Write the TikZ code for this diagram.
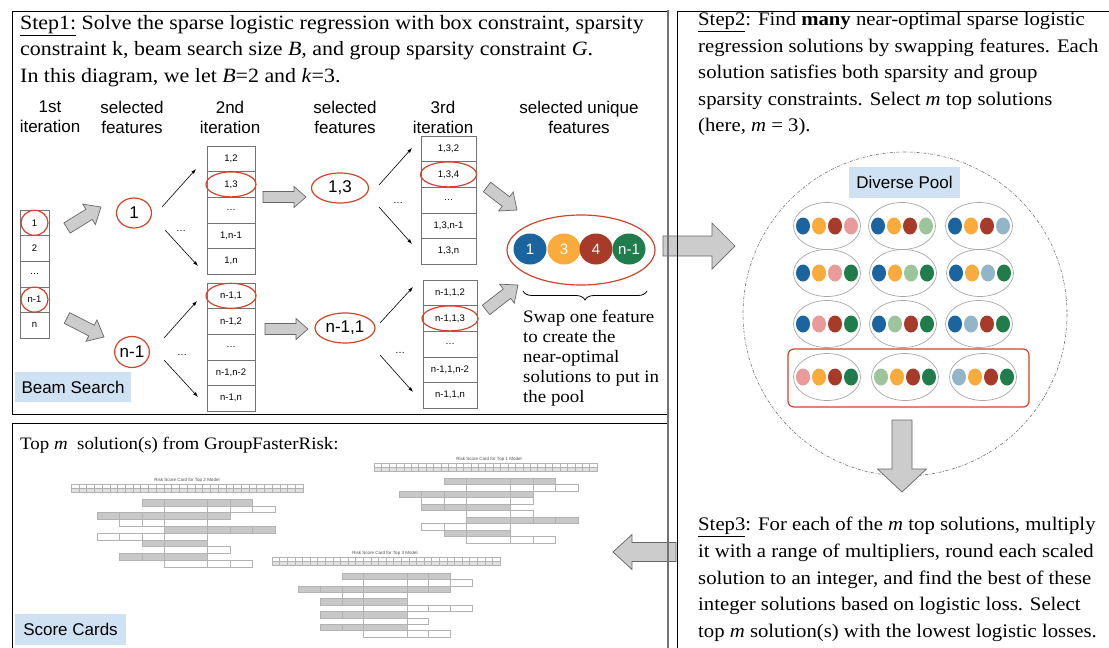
\documentclass[tikz,border=0pt]{standalone}
\usepackage{fontspec}
\setmainfont{Liberation Serif}[FakeStretch=1.08]
\setsansfont{Liberation Sans}
\usetikzlibrary{shapes.geometric,decorations.pathreplacing,calc,arrows.meta}
\definecolor{cB}{HTML}{1A64A0}
\definecolor{cO}{HTML}{FBAA3C}
\definecolor{cR}{HTML}{A83A2A}
\definecolor{cG}{HTML}{1E7D4B}
\definecolor{cP}{HTML}{E99B9B}
\definecolor{cL}{HTML}{9CC59C}
\definecolor{cS}{HTML}{93B5C9}
\definecolor{redline}{HTML}{D0442A}
\definecolor{labelblue}{HTML}{CFE2F3}
\definecolor{arrowfill}{HTML}{CCCCCC}
\definecolor{arrowdraw}{HTML}{666666}
\definecolor{cardgray}{HTML}{C8C8C8}
\tikzset{
 hdr/.style={font=\sffamily\fontsize{17}{20}\selectfont, align=center},
 cell/.style={draw=black!55, line width=0.6pt, minimum height=25.6pt, inner sep=0pt, font=\sffamily\fontsize{9.5}{10}\selectfont},
 selring/.style={ellipse, draw=redline, line width=1.2pt, inner sep=0pt},
 selfeat/.style={ellipse, draw=redline, line width=1.2pt, inner sep=0pt, font=\sffamily\fontsize{17}{20}\selectfont},
 thinarrow/.style={-{Latex[length=5pt,width=3.5pt]}, line width=0.6pt},
 dotslabel/.style={font=\sffamily\fontsize{10}{12}\selectfont},
 bigarrow/.style={fill=arrowfill, draw=arrowdraw, line width=0.7pt, line join=miter},
 tag/.style={fill=labelblue, inner sep=0pt, font=\sffamily\fontsize{17}{20}\selectfont},
 feat/.style={ellipse, inner sep=0pt, minimum width=33pt, minimum height=31pt, text=white, font=\sffamily\fontsize{15}{18}\selectfont},
 steptext/.style={align=left, inner sep=0pt, anchor=north west, font=\fontsize{17.5}{26.5}\selectfont},
 poolell/.style={ellipse, draw=black!35, line width=0.7pt, minimum width=67pt, minimum height=47pt, inner sep=0pt},
 panel/.style={draw=black, line width=0.8pt},
 cardcell/.style={draw=black!30, line width=0.25pt},
 cardtitle/.style={font=\sffamily\fontsize{4.5}{5}\selectfont, text=black!70, inner sep=0pt},
}
% tail x,y ; tip x,y ; half body ; half head ; head length
\newcommand\blockarrow[7]{%
 \pgfmathsetmacro\bal{veclen(#3-#1,#4-#2)}%
 \pgfmathsetmacro\baa{atan2(#4-#2,#3-#1)}%
 \begin{scope}[shift={(#1,#2)}, rotate=-\baa]
  \draw[bigarrow] (0,-#5) -- ({\bal-#7},-#5) -- ({\bal-#7},-#6) -- (\bal,0) -- ({\bal-#7},#6) -- ({\bal-#7},#5) -- (0,#5) -- cycle;
 \end{scope}}
% name, x center, y top, width, list
\newcommand\featcol[5]{%
 \foreach \lab [count=\ii] in {#5} {
  \node[cell, minimum width=#4] (#1-\ii) at (#2, {#3+(\ii-0.5)*25.6}) {\lab};
 }}
% x0, y0, x1, row h, n cells
\newcommand\cardhead[5]{%
 \pgfmathsetmacro\hdcw{(#3-#1)/#5}%
 \foreach \k in {1,...,#5} {
  \draw[cardcell, fill=white] ({#1+(\k-1)*\hdcw},#2) rectangle ({#1+\k*\hdcw},{#2+#4});
  \draw[cardcell, fill=black!12] ({#1+(\k-1)*\hdcw},{#2+#4}) rectangle ({#1+\k*\hdcw},{#2+2*#4});
 }}
% x0, y0, w, center w, row h, spec
\newcommand\cardbody[6]{%
 \foreach \fc/\ca/\cb [count=\rr] in {#6} {
  \pgfmathtruncatemacro\cbm{\cb-1}
  \foreach \k in {\ca,...,\cbm} {
   \pgfmathsetmacro\xl{#1+\k*#3+(\k>3)*(#4-#3)}
   \pgfmathsetmacro\xr{#1+(\k+1)*#3+((\k+1)>3)*(#4-#3)}
   \pgfmathsetmacro\yt{#2+(\rr-1)*#5}
   \draw[cardcell, fill=\fc] (\xl,\yt) rectangle (\xr,{\yt+#5});
  }}}
\begin{document}
\begin{tikzpicture}[x=1pt,y=-1pt]
\useasboundingbox (0,0) rectangle (1109,648);
\clip (0,0) rectangle (1109,648);

% ---------- Step 1 ----------
\node[steptext, font=\fontsize{20.3}{26.5}\selectfont] (step1) at (20,15) {\underline{Step1:} Solve the sparse logistic regression with box constraint, sparsity\\
constraint k, beam search size \textit{B,} and group sparsity constraint \textit{G}.\\
In this diagram, we let \textit{B}=2 and \textit{k}=3.};

\node[hdr] (h1) at (50,117) {1st\\iteration};
\node[hdr] (h2) at (132,117) {selected\\features};
\node[hdr] (h3) at (230,117) {2nd\\iteration};
\node[hdr] (h4) at (345,117) {selected\\features};
\node[hdr] (h5) at (443,117) {3rd\\iteration};
\node[hdr] (h6) at (579,117) {selected unique\\features};

\featcol{ca}{34.5}{210}{29pt}{{1},{2},{\dots},{n-1},{n}}
\featcol{cb}{231}{146}{48pt}{{1,2},{1,3},{\dots},{1,n-1},{1,n}}
\featcol{cc}{231}{283}{48pt}{{n-1,1},{n-1,2},{\dots},{n-1,n-2},{n-1,n}}
\featcol{cd}{448.5}{136}{55pt}{{1,3,2},{1,3,4},{\dots},{1,3,n-1},{1,3,n}}
\featcol{ce}{450}{280}{54pt}{{n-1,1,2},{n-1,1,3},{\dots},{n-1,1,n-2},{n-1,1,n}}

\node[selring, minimum width=27pt, minimum height=25pt] (ra1) at (ca-1) {};
\node[selring, minimum width=27pt, minimum height=25pt] (ra4) at (ca-4) {};
\node[selring, minimum width=50pt, minimum height=25pt] (rb2) at (cb-2) {};
\node[selring, minimum width=50pt, minimum height=25pt] (rc1) at (cc-1) {};
\node[selring, minimum width=56pt, minimum height=25pt] (rd2) at (cd-2) {};
\node[selring, minimum width=56pt, minimum height=25pt] (re2) at (ce-2) {};

\node[selfeat, minimum width=35pt, minimum height=30pt] (s1) at (134,213) {1};
\node[selfeat, minimum width=34pt, minimum height=31pt] (s2) at (132,352) {n-1};
\node[selfeat, minimum width=57pt, minimum height=30pt] (s3) at (340,188) {1,3};
\node[selfeat, minimum width=60pt, minimum height=30pt] (s4) at (345,328) {n-1,1};

% thin arrows
\coordinate (a1s) at (162,207); \coordinate (a1e) at (196,169);
\coordinate (a2s) at (165,230); \coordinate (a2e) at (198,266);
\coordinate (a3s) at (164,338); \coordinate (a3e) at (197,301);
\coordinate (a4s) at (164,360); \coordinate (a4e) at (198,397);
\coordinate (a5s) at (379,185); \coordinate (a5e) at (412,148);
\coordinate (a6s) at (379,207); \coordinate (a6e) at (412,244);
\coordinate (a7s) at (380,323); \coordinate (a7e) at (413,287);
\coordinate (a8s) at (380,355); \coordinate (a8e) at (413,392);
\foreach \n in {1,...,8} \draw[thinarrow] (a\n s) -- (a\n e);
\node[dotslabel] (d1) at (181,231) {\dots};
\node[dotslabel] (d2) at (182,355) {\dots};
\node[dotslabel] (d3) at (398,203) {\dots};
\node[dotslabel] (d4) at (400,353) {\dots};

% block arrows in beam search
\blockarrow{67}{228}{101}{207}{6}{12}{14}
\blockarrow{67}{318}{104}{337}{6}{12}{14}
\blockarrow{263}{197}{306}{197}{5.5}{10.5}{12}
\blockarrow{265}{329}{308}{329}{5.5}{10.5}{12}
\blockarrow{487}{187}{517}{210}{6}{12}{14}
\blockarrow{486}{310}{518}{285}{6}{12}{14}

% selected unique features
\node[ellipse, draw=redline, line width=1.2pt, minimum width=148pt, minimum height=70pt, inner sep=0pt] (uniq) at (581,250) {};
\node[feat, fill=cB] (f1) at (530,249) {1};
\node[feat, fill=cO] (f2) at (564,249) {3};
\node[feat, fill=cR] (f3) at (596,249) {4};
\node[feat, fill=cG] (f4) at (629,249) {n-1};
\coordinate (brl) at (523,291);
\coordinate (brr) at (647,291);
\draw[decorate, decoration={brace, amplitude=9pt, mirror}, line width=0.8pt] (brl) -- (brr);
\node[steptext, font=\fontsize{17.5}{20}\selectfont] (swap) at (523,310) {Swap one feature\\to create the\\near-optimal\\solutions to put in\\the pool};

\node[tag, minimum width=116pt, minimum height=30pt] (beam) at (73,387) {Beam Search};

% ---------- Step 2 ----------
\node[steptext, font=\fontsize{19.2}{26.5}\selectfont] (step2) at (698,12) {\underline{Step2}: Find \textbf{many} near-optimal sparse logistic\\
regression solutions by swapping features. Each\\
solution satisfies both sparsity and group\\
sparsity constraints. Select \textit{m} top solutions\\
(here, \textit{m} = 3).};

\draw[black!55, line width=0.6pt, dash pattern=on 3pt off 1.5pt on 0.8pt off 1.5pt] (905,314) circle (162);
\node[tag, minimum width=111pt, minimum height=31pt] (pooltag) at (904.5,182.5) {Diverse Pool};
\foreach \cx/\cy/\ca/\cb/\cc/\cd [count=\n] in {
 827/226/cB/cO/cR/cP, 902/226/cB/cO/cR/cL, 979/226/cB/cO/cR/cS,
 827/273/cB/cO/cP/cG, 903/273/cB/cO/cL/cG, 980/273/cB/cO/cS/cG,
 827/324/cB/cP/cR/cG, 903/324/cB/cL/cR/cG, 979/324/cB/cS/cR/cG,
 827/377/cP/cO/cR/cG, 905/377/cL/cO/cR/cG, 983/377/cS/cO/cR/cG} {
  \node[poolell] (p\n) at (\cx,\cy) {};
  \foreach \col [count=\j] in {\ca,\cb,\cc,\cd}
   \fill[\col] ({\cx+16*\j-40},\cy) ellipse [x radius=7, y radius=8.5];
}
\draw[redline, line width=1.2pt, rounded corners=6pt] (788,349) rectangle (1029,407);

\blockarrow{663}{246}{735}{246}{10}{23}{23}
\blockarrow{902}{420}{902}{492}{10}{24.5}{23}

% ---------- Step 3 ----------
\node[steptext, font=\fontsize{19.2}{26.7}\selectfont] (step3) at (698,517) {\underline{Step3}: For each of the \textit{m} top solutions, multiply\\
it with a range of multipliers, round each scaled\\
solution to an integer, and find the best of these\\
integer solutions based on logistic loss. Select\\
top \textit{m} solution(s) with the lowest logistic losses.};

\blockarrow{676}{552}{613}{552}{9.5}{17.5}{19}

% ---------- Score cards ----------
\node[steptext, font=\fontsize{17.5}{20}\selectfont] (topm) at (20,437) {Top \textit{m}\ \ solution(s) from GroupFasterRisk:};

\node[cardtitle] (t2) at (187,480) {Risk Score Card for Top 2 Model};
\cardhead{71}{484}{303}{4}{30}
\cardbody{96.7}{499}{22.5}{43.3}{6.8}{cardgray/2/6, white/3/7, cardgray/0/5, white/1/4, cardgray/3/7, white/0/4, cardgray/2/4, white/3/5, cardgray/1/4, white/3/6}

\node[cardtitle] (t1) at (489,459) {Risk Score Card for Top 1 Model};
\cardhead{374}{463}{597}{4}{30}
\cardbody{399}{478}{22.5}{44}{6.5}{cardgray/2/6, white/3/7, cardgray/0/5, white/1/5, cardgray/1/4, white/3/5, cardgray/3/7, white/1/4, cardgray/2/4, white/3/6}

\node[cardtitle] (t3) at (385,553) {Risk Score Card for Top 3 Model};
\cardhead{272}{557}{500}{4}{30}
\cardbody{298.3}{573}{21.7}{43.3}{6.4}{cardgray/2/6, white/3/7, cardgray/0/6, white/2/4, cardgray/1/4, white/3/7, cardgray/1/4, white/3/5, cardgray/1/4, white/3/6}

\node[tag, minimum width=111pt, minimum height=31pt] (sctag) at (70.5,629) {Score Cards};

% ---------- panels ----------
\draw[panel] (668,11) -- (12,11) -- (12,414) -- (668,414);
\draw[panel] (12,660) -- (12,423) -- (668,423);
\draw[black!55, line width=2pt] (668,10) -- (668,660);
\draw[panel] (677,660) -- (677,11) -- (1115,11);
\end{tikzpicture}
\end{document}
